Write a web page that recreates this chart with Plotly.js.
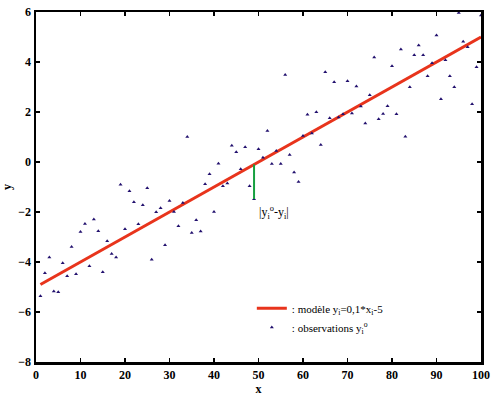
<!DOCTYPE html>
<html>
<head>
<meta charset="utf-8">
<script src="https://cdn.plot.ly/plotly-3.0.1.min.js"></script>
<style>html,body{margin:0;padding:0;background:#fff;}</style>
</head>
<body>
<div id="chart" style="width:496px;height:397px;"></div>
<script>
// Observations (x_i, y_i^o)
var obsX = [];
for (var i = 1; i <= 100; i++) obsX.push(i);
var obsY = [
  -5.36, -4.44, -3.81, -5.17, -5.20, -4.04, -4.56, -3.39, -4.48, -2.79,
  -2.47, -4.16, -2.29, -2.76, -4.40, -3.16, -3.67, -3.81, -0.90, -2.68,
  -1.16, -1.60, -2.48, -1.72, -1.04, -3.90, -2.00, -1.84, -3.32, -1.55,
  -1.99, -2.56, -1.63, 1.01, -2.83, -2.32, -2.77, -0.88, -0.48, -1.99,
  -0.06, -0.96, -0.85, 0.66, 0.40, -0.28, 0.60, -0.96, -1.48, 0.52,
  0.18, 1.25, -0.07, 0.45, -0.07, 3.49, 0.29, -0.41, -0.79, 1.05,
  1.90, 1.15, 2.00, 0.69, 3.60, 1.76, 3.20, 1.79, 1.92, 3.24,
  1.95, 3.03, 2.23, 1.55, 2.68, 4.19, 1.72, 1.93, 2.24, 3.84,
  1.92, 4.51, 1.02, 3.00, 4.28, 4.67, 4.28, 3.44, 3.96, 5.07,
  2.52, 4.08, 3.44, 3.00, 5.97, 4.82, 4.60, 2.32, 3.80, 5.87
];
// Model line y_i = 0,1*x_i - 5
var modelX = [1, 100];
var modelY = [-4.9, 5.0];
// Highlighted residual at x = 49
var resX = [49, 49];
var resY = [-0.1, -1.48];

var xTicks = [0, 10, 20, 30, 40, 50, 60, 70, 80, 90, 100];
var yTicks = [-8, -6, -4, -2, 0, 2, 4, 6];

var serif = 'Liberation Serif, Times New Roman, serif';

var traces = [
  {
    x: modelX, y: modelY, mode: 'lines', type: 'scatter',
    line: {color: '#e8341c', width: 3},
    name: ': modèle y<sub>i</sub>=0,1*x<sub>i</sub>-5'
  },
  {
    x: obsX, y: obsY, mode: 'markers', type: 'scatter',
    marker: {symbol: 'triangle-up', size: 3.5, color: '#22106e'},
    name: ': observations y<sub>i</sub><sup>o</sup>'
  },
  {
    x: resX, y: resY, mode: 'lines', type: 'scatter',
    line: {color: '#16a040', width: 2},
    showlegend: false, hoverinfo: 'skip'
  }
];

var axisCommon = {
  showgrid: false, zeroline: false,
  showline: true, linecolor: '#000', linewidth: 2.5, mirror: 'ticks',
  ticks: 'inside', ticklen: 4, tickwidth: 1.5, tickcolor: '#000',
  tickfont: {family: serif, size: 12, color: '#000', weight: 'bold'}
};

var layout = {
  width: 496, height: 397,
  margin: {l: 36, r: 15, t: 12, b: 35},
  paper_bgcolor: '#fff', plot_bgcolor: '#fff',
  showlegend: true,
  legend: {
    x: 0.485, y: 0.195, xanchor: 'left', yanchor: 'top',
    bgcolor: 'rgba(0,0,0,0)', borderwidth: 0,
    font: {family: serif, size: 11, color: '#000'},
    tracegroupgap: 0
  },
  xaxis: Object.assign({}, axisCommon, {
    range: [0, 100], tickmode: 'array', tickvals: xTicks,
    title: {text: 'x', font: {family: serif, size: 12, color: '#000', weight: 'bold'}, standoff: 2}
  }),
  yaxis: Object.assign({}, axisCommon, {
    range: [-8, 6], tickmode: 'array', tickvals: yTicks,
    title: {text: 'y', font: {family: serif, size: 12, color: '#000', weight: 'bold'}, standoff: 4}
  }),
  annotations: [{
    xref: 'x', yref: 'y', x: 49.6, y: -2.0, xanchor: 'left', yanchor: 'middle',
    text: '|y<sub>i</sub><sup>o</sup>-y<sub>i</sub>|', showarrow: false,
    font: {family: serif, size: 12, color: '#000'}
  }]
};

Plotly.newPlot('chart', traces, layout, {displayModeBar: false, staticPlot: true});
</script>
</body>
</html>
